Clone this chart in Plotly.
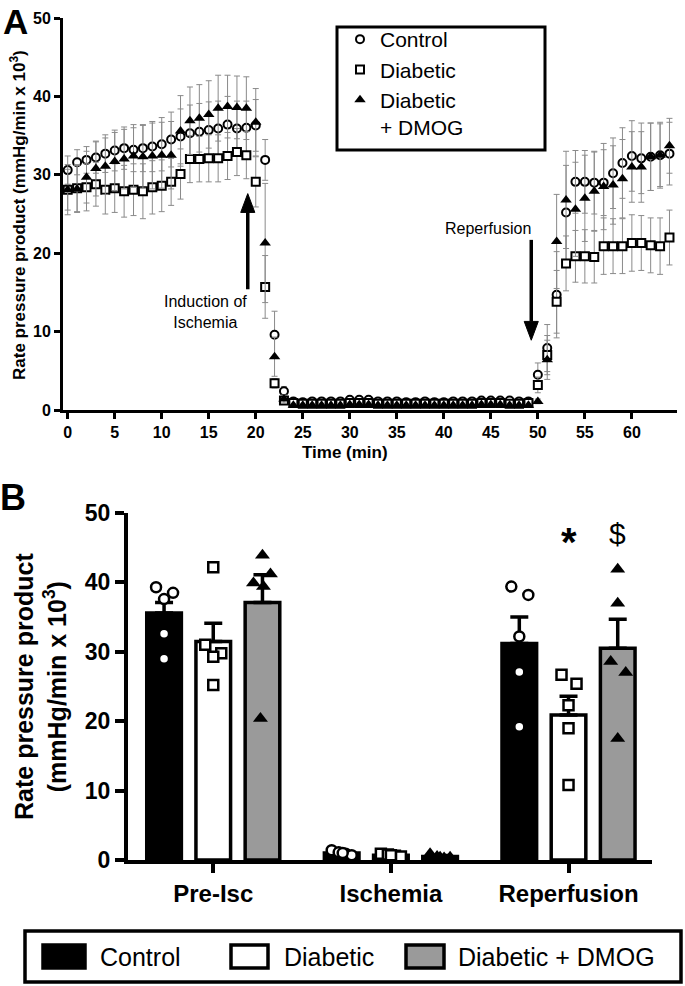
import plotly.graph_objects as go

# ============================================
# DATA - panel A (time course, mean +/- SEM, x 10^3)
# ============================================
TIME_MIN = list(range(0, 65))

CTRL_MEAN = [30.6, 31.6, 31.9, 32.2, 32.7, 33.1, 33.4, 33.2, 33.4, 33.6, 33.9, 34.5,
             34.9, 35.3, 35.5, 35.7, 35.9, 36.4, 35.9, 36.0, 36.3, 31.9, 9.6, 2.4,
             1.1, 1.0, 1.1, 1.1, 1.1, 1.1, 1.3, 1.3, 1.3, 1.1, 1.1, 1.1, 1.0,
             1.0, 1.1, 1.0, 1.0, 1.1, 1.1, 1.1, 1.2, 1.2, 1.2, 1.2, 1.1, 1.1,
             4.5, 7.9, 14.7, 25.2, 29.1, 29.1, 29.0, 29.0, 30.2, 31.5, 32.4, 32.1,
             32.3, 32.5, 32.7]
CTRL_SEM = [1.8, 1.6, 1.7, 2.0, 2.4, 2.6, 2.7, 2.8, 3.0, 3.2, 3.4, 3.5,
            3.5, 3.6, 3.6, 3.6, 3.5, 3.6, 3.5, 3.4, 3.3, 2.6, 3.0, 0.6,
            0.2, 0.2, 0.2, 0.2, 0.2, 0.2, 0.3, 0.3, 0.3, 0.2, 0.2, 0.2, 0.2,
            0.2, 0.2, 0.2, 0.2, 0.2, 0.2, 0.2, 0.3, 0.3, 0.3, 0.3, 0.2, 0.2,
            1.5, 3.0, 5.5, 6.0, 4.0, 4.0, 4.0, 4.2, 4.5, 4.5, 4.5, 4.5,
            4.3, 4.2, 4.0]

DIAB_MEAN = [28.1, 28.3, 28.4, 28.8, 28.1, 28.3, 27.9, 28.1, 27.9, 28.4, 28.6, 29.1,
             30.1, 32.0, 32.0, 32.1, 32.1, 32.4, 32.9, 32.5, 29.1, 15.7, 3.4, 1.2,
             0.9, 0.8, 0.8, 0.8, 0.8, 0.8, 0.9, 0.9, 0.9, 0.8, 0.8, 0.8, 0.8,
             0.8, 0.8, 0.8, 0.8, 0.8, 0.8, 0.8, 0.9, 0.9, 0.9, 0.8, 0.8, 0.9,
             3.2, 7.0, 13.8, 18.7, 19.6, 19.6, 19.5, 20.9, 20.9, 20.9, 21.3, 21.3,
             21.0, 20.9, 22.0]
DIAB_SEM = [3.2, 3.0, 3.0, 2.8, 3.1, 3.1, 3.3, 3.3, 3.5, 3.4, 3.3, 3.0,
            3.2, 3.0, 2.9, 3.0, 3.0, 3.0, 3.0, 3.0, 3.2, 4.0, 0.6, 0.3,
            0.1, 0.1, 0.1, 0.1, 0.1, 0.1, 0.1, 0.1, 0.1, 0.1, 0.1, 0.1, 0.1,
            0.1, 0.1, 0.1, 0.1, 0.1, 0.1, 0.1, 0.1, 0.1, 0.1, 0.1, 0.1, 0.1,
            1.0, 2.5, 4.0, 3.5, 3.3, 3.4, 3.3, 3.6, 3.5, 3.5, 3.6, 3.5,
            3.5, 3.6, 3.5]

DMOG_MEAN = [28.1, 28.2, 29.7, 30.8, 31.1, 31.7, 32.0, 32.4, 32.3, 32.4, 32.5, 32.5,
             35.6, 36.9, 37.2, 37.7, 38.5, 38.7, 38.6, 38.5, 36.7, 21.3, 6.8, 1.4,
             0.6, 0.6, 0.6, 0.6, 0.6, 0.6, 0.7, 0.7, 0.7, 0.6, 0.6, 0.6, 0.6,
             0.6, 0.6, 0.6, 0.6, 0.6, 0.6, 0.6, 0.7, 0.7, 0.7, 0.6, 0.6, 0.6,
             1.1, 6.4, 21.5, 26.8, 25.6, 27.0, 27.9, 28.5, 28.7, 29.5, 31.0, 31.0,
             32.3, 32.5, 33.7]
DMOG_SEM = [2.6, 3.0, 3.3, 3.5, 3.6, 3.7, 3.8, 4.0, 4.0, 4.2, 4.2, 4.3,
            4.5, 4.3, 4.3, 4.3, 4.2, 4.0, 4.0, 4.0, 4.3, 7.6, 2.5, 0.5,
            0.1, 0.1, 0.1, 0.1, 0.1, 0.1, 0.1, 0.1, 0.1, 0.1, 0.1, 0.1, 0.1,
            0.1, 0.1, 0.1, 0.1, 0.1, 0.1, 0.1, 0.1, 0.1, 0.1, 0.1, 0.1, 0.1,
            0.3, 2.5, 6.0, 6.2, 6.0, 5.5, 5.0, 5.5, 5.0, 5.0, 4.5, 4.5,
            4.3, 4.0, 3.5]

# ============================================
# DATA - panel B (phase averages)
# ============================================
PHASES = ['Pre-Isc', 'Ischemia', 'Reperfusion']
GROUPS = ['Control', 'Diabetic', 'Diabetic + DMOG']

BAR_MEAN = {
    'Control':         [35.6, 1.0, 31.2],
    'Diabetic':        [31.5, 0.7, 20.9],
    'Diabetic + DMOG': [37.1, 0.5, 30.5],
}
BAR_SEM = {
    'Control':         [1.5, 0.15, 3.8],
    'Diabetic':        [2.6, 0.10, 2.7],
    'Diabetic + DMOG': [4.0, 0.15, 4.2],
}
# individual hearts (n = 5 per group) for each phase
POINTS = {
    'Control': [[39.3, 38.5, 37.6, 32.6, 29.0],
                [1.4, 1.1, 0.9, 0.7, 1.0],
                [39.4, 38.2, 32.2, 27.1, 19.2]],
    'Diabetic': [[42.2, 31.0, 29.8, 29.3, 25.2],
                 [0.9, 0.8, 0.6, 0.5, 0.7],
                 [26.7, 25.4, 22.3, 19.0, 10.8]],
    'Diabetic + DMOG': [[43.9, 41.2, 39.9, 39.4, 20.4],
                        [0.9, 0.5, 0.3, 0.4, 0.4],
                        [41.9, 37.0, 28.6, 27.0, 17.5]],
}

# ============================================
# STYLE / POSITIONS
# ============================================
W, H = 685, 986
FONT = 'Liberation Sans, Arial, sans-serif'
GRAY_ERR = '#8a8a8a'

def px(x):
    return x / W

def py(y):
    return 1 - y / H

GROUP_OFFSET = [-0.277, 0.0, 0.277]
BAR_WIDTH = 0.195
# horizontal scatter of the dots (pixels), per phase
JITTER_PX = {
    'Control': [[-8, 9, 0, 0, 0], [-10, -3, 4, 10, 1], [-8, 9, 0, 0, 0]],
    'Diabetic': [[0, -8, 8, 0, 0], [-10, -3, 4, 10, 0], [-7, 8, 0, 0, 0]],
    'Diabetic + DMOG': [[0, 8, -9, 1, -2], [-10, -3, 4, 10, 0], [0, 0, -7, 8, 0]],
}
PX_PER_CAT = 177.5
BAR_FILL = {'Control': 'black', 'Diabetic': 'white', 'Diabetic + DMOG': '#9a9a9a'}
B_MARKER = {
    'Control': dict(symbol='circle', size=10, color='white', line=dict(color='black', width=2.5)),
    'Diabetic': dict(symbol='square', size=10, color='white', line=dict(color='black', width=2.5)),
    'Diabetic + DMOG': dict(symbol='triangle-up', size=13, color='black', line=dict(color='black', width=0)),
}

fig = go.Figure()

# ---------------- Panel A ----------------
series_a = [
    ('Control', CTRL_MEAN, CTRL_SEM, dict(symbol='circle', size=8, color='white', line=dict(color='black', width=2))),
    ('Diabetic', DIAB_MEAN, DIAB_SEM, dict(symbol='square', size=8, color='white', line=dict(color='black', width=2))),
    ('Diabetic<br>+ DMOG', DMOG_MEAN, DMOG_SEM, dict(symbol='triangle-up', size=10, color='black', line=dict(color='black', width=0))),
]
for name, mean, sem, mk in series_a:
    fig.add_trace(go.Scatter(
        x=TIME_MIN, y=mean, mode='markers', name=name,
        marker=mk,
        error_y=dict(type='data', array=sem, color=GRAY_ERR, thickness=1, width=3),
        cliponaxis=False, xaxis='x', yaxis='y', showlegend=True,
    ))

# ---------------- Panel B ----------------
for gi, g in enumerate(GROUPS):
    xs = [i + GROUP_OFFSET[gi] for i in range(len(PHASES))]
    fig.add_trace(go.Bar(
        x=xs, y=BAR_MEAN[g], width=BAR_WIDTH,
        marker=dict(color=BAR_FILL[g], line=dict(color='black', width=3.5)),
        error_y=dict(type='data', symmetric=False, array=BAR_SEM[g],
                     arrayminus=[0, 0, 0], color='black', thickness=3.5, width=9),
        xaxis='x2', yaxis='y2', showlegend=False, name=g,
    ))
for gi, g in enumerate(GROUPS):
    xs, ys = [], []
    for pi in range(len(PHASES)):
        for v, j in zip(POINTS[g][pi], JITTER_PX[g][pi]):
            xs.append(pi + GROUP_OFFSET[gi] + j / PX_PER_CAT)
            ys.append(v)
    fig.add_trace(go.Scatter(
        x=xs, y=ys, mode='markers', marker=B_MARKER[g], cliponaxis=False,
        xaxis='x2', yaxis='y2', showlegend=False, name=g,
    ))

# ---------------- Layout ----------------
common_a = dict(ticks='outside', ticklen=6, tickwidth=2.5, tickcolor='black',
                showline=True, linewidth=3, linecolor='black', showgrid=False,
                zeroline=False, automargin=False,
                tickfont=dict(family=FONT, size=16, color='black', weight='bold'))
common_b = dict(ticks='outside', ticklen=9, tickwidth=4, tickcolor='black',
                showline=True, linewidth=4, linecolor='black', showgrid=False,
                zeroline=False, automargin=False)

fig.update_layout(
    width=W, height=H, autosize=False,
    margin=dict(l=0, r=0, t=0, b=0, pad=0),
    paper_bgcolor='white', plot_bgcolor='white',
    font=dict(family=FONT, color='black'),
    barmode='overlay',
    xaxis=dict(domain=[px(63), px(677)], range=[-0.5, 64.8], anchor='y',
               tickvals=[0, 5, 10, 15, 20, 25, 30, 35, 40, 45, 50, 55, 60], **common_a),
    yaxis=dict(domain=[py(410), py(18)], range=[0, 50], anchor='x',
               tickvals=[0, 10, 20, 30, 40, 50], **common_a),
    xaxis2=dict(domain=[px(128), px(652)], range=[-0.48, 2.47], anchor='y2',
                tickvals=[0, 1, 2], ticktext=PHASES,
                tickfont=dict(family=FONT, size=24, color='black', weight='bold'), **common_b),
    yaxis2=dict(domain=[py(860), py(513)], range=[0, 50], anchor='x2',
                tickvals=[0, 10, 20, 30, 40, 50],
                tickfont=dict(family=FONT, size=23, color='black', weight='bold'), **common_b),
    legend=dict(x=px(340), y=py(19), xanchor='left', yanchor='top',
                bgcolor='rgba(0,0,0,0)', borderwidth=0,
                font=dict(family=FONT, size=21, color='black'),
                valign='top', tracegroupgap=0, itemsizing='trace'),
)

annotations = [
    dict(text='<b>A</b>', x=px(16), y=1.0, yanchor='top', font=dict(size=35)),
    dict(text='<b>B</b>', x=px(13), y=py(497), font=dict(size=36)),
    dict(text='<b>Rate pressure product (mmHg/min x 10<sup>3</sup>)</b>',
         x=px(18), y=py(215), textangle=-90, font=dict(size=17)),
    dict(text='<b>Time (min)</b>', x=px(345), y=py(452), font=dict(size=17)),
    dict(text='Induction of<br>Ischemia', x=px(205), y=py(312), font=dict(size=16)),
    dict(text='Reperfusion', x=px(488), y=py(228), font=dict(size=16)),
    dict(text='<b>Rate pressure product<br>(mmHg/min x 10<sup>3</sup>)</b>',
         x=px(40), y=py(687), textangle=-90, font=dict(size=25)),
]
for a in annotations:
    a.setdefault('yanchor', 'middle')
    a.update(xref='paper', yref='paper', showarrow=False, xanchor='center')
    a['font'] = dict(family=FONT, color='black', **a['font'])
    fig.add_annotation(**a)

# arrows in panel A (shaft + filled head), in data units of axis A
ARROWS = [
    # x, tail y, tip y
    (19.15, 15.4, 27.6),
    (49.3, 21.7, 8.9),
]
HEAD_HALF_W = 0.75   # minutes
HEAD_LEN = 2.4       # y units
for ax_x, y_tail, y_tip in ARROWS:
    d = 1 if y_tip > y_tail else -1
    y_base = y_tip - d * HEAD_LEN
    fig.add_shape(type='line', xref='x', yref='y', x0=ax_x, x1=ax_x,
                  y0=y_tail, y1=y_base, line=dict(color='black', width=3.5))
    fig.add_shape(type='path', xref='x', yref='y',
                  path=f'M {ax_x - HEAD_HALF_W},{y_base} L {ax_x + HEAD_HALF_W},{y_base} L {ax_x},{y_tip} Z',
                  fillcolor='black', line=dict(color='black', width=1))

# significance marks in panel B
fig.add_annotation(x=2 + GROUP_OFFSET[1], y=45.8, xref='x2', yref='y2', text='<b>*</b>',
                   showarrow=False, font=dict(family=FONT, size=40, color='black'))
fig.add_annotation(x=2 + GROUP_OFFSET[2], y=47.0, xref='x2', yref='y2', text='$',
                   showarrow=False, font=dict(family=FONT, size=30, color='black'))

# legend boxes
fig.add_shape(type='rect', xref='paper', yref='paper',
              x0=px(337), x1=px(545), y0=py(150), y1=py(27),
              line=dict(color='black', width=3), fillcolor='rgba(0,0,0,0)')
fig.add_shape(type='rect', xref='paper', yref='paper',
              x0=px(25), x1=px(681), y0=py(982), y1=py(931),
              line=dict(color='black', width=3.5), fillcolor='rgba(0,0,0,0)')
legend_b = [
    ('Control', 43, 85, 98),
    ('Diabetic', 231, 268, 282),
    ('Diabetic + DMOG', 406, 444, 456),
]
for g, sx0, sx1, tx in legend_b:
    fig.add_shape(type='rect', xref='paper', yref='paper',
                  x0=px(sx0), x1=px(sx1), y0=py(968), y1=py(945),
                  line=dict(color='black', width=3.5), fillcolor=BAR_FILL[g])
    fig.add_annotation(text=g, x=px(tx), y=py(957), xref='paper', yref='paper',
                       xanchor='left', yanchor='middle', showarrow=False,
                       font=dict(family=FONT, size=25, color='black'))

fig.write_html('out.html', config={'displayModeBar': False},
               post_script="document.body.style.margin='0';")
